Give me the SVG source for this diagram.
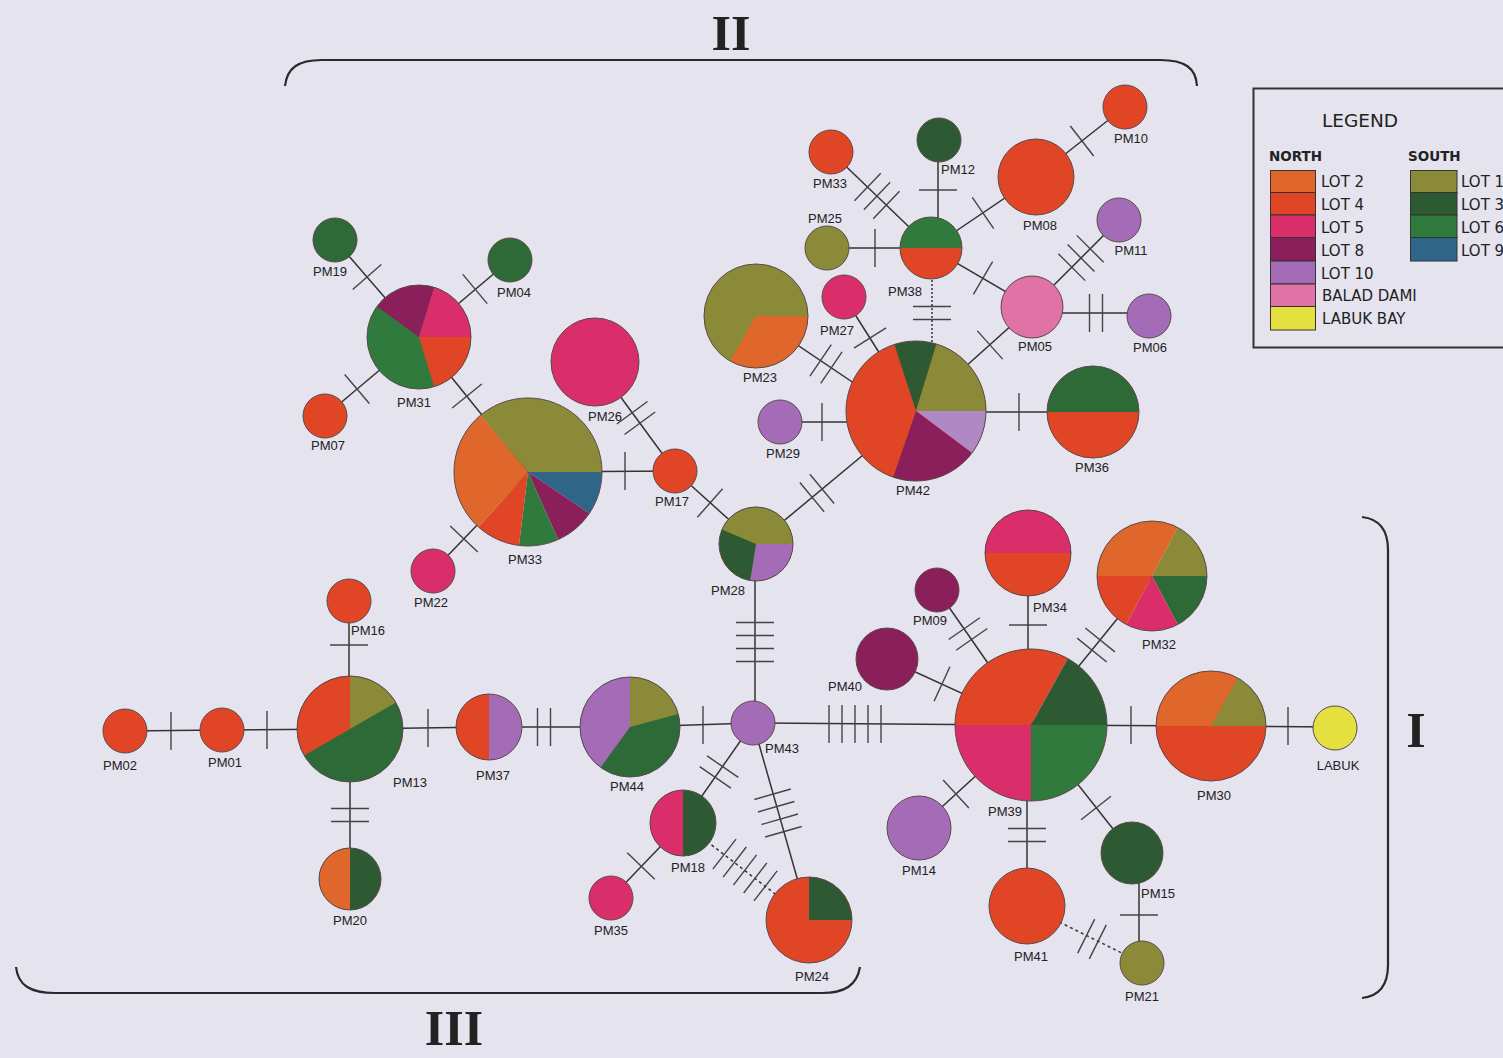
<svg xmlns="http://www.w3.org/2000/svg" xmlns:xlink="http://www.w3.org/1999/xlink" width="1503" height="1058" viewBox="0 0 1503 1058">
<style>
.c line{stroke:#333;stroke-width:1.5;fill:none}
.c .dash{stroke-dasharray:3 3}
.tk line{stroke:#444;stroke-width:1.4}
.ol{fill:none;stroke:#5a4a4a;stroke-width:1}
circle.s{stroke:#5a4a4a;stroke-width:1}
.lb{font-family:"Liberation Sans",Arial,sans-serif;font-size:13px;fill:#222;text-anchor:middle}
.lg{font-family:"DejaVu Sans","Liberation Sans",sans-serif;fill:#222}
.br{fill:none;stroke:#2a2a2a;stroke-width:2.2}
.rn{font-family:"Liberation Serif","Times New Roman",serif;font-weight:bold;font-size:50px;fill:#222;text-anchor:middle}
.l2{fill:#e0672b}.l4{fill:#e04526}.l5{fill:#da2e6a}.l8{fill:#8b1f5b}.l10{fill:#a46bb6}
.bd{fill:#e072a6}.lb9{fill:#e4e040}.l1{fill:#8a8a38}.l3{fill:#2d5a33}.l6{fill:#2f7a3c}.l9{fill:#2f6688}
.g2{fill:#2e6a37}
.sw{stroke:#333;stroke-width:1}
</style>
<defs>
<g id="t1" class="tk"><line x1="0" y1="-19" x2="0" y2="19"/></g>
<g id="t2" class="tk"><line x1="-6.5" y1="-19" x2="-6.5" y2="19"/><line x1="6.5" y1="-19" x2="6.5" y2="19"/></g>
<g id="t3" class="tk"><line x1="-13" y1="-19" x2="-13" y2="19"/><line x1="0" y1="-19" x2="0" y2="19"/><line x1="13" y1="-19" x2="13" y2="19"/></g>
<g id="t4" class="tk"><line x1="-19.5" y1="-19" x2="-19.5" y2="19"/><line x1="-6.5" y1="-19" x2="-6.5" y2="19"/><line x1="6.5" y1="-19" x2="6.5" y2="19"/><line x1="19.5" y1="-19" x2="19.5" y2="19"/></g>
<g id="t5" class="tk"><line x1="-26" y1="-19" x2="-26" y2="19"/><line x1="-13" y1="-19" x2="-13" y2="19"/><line x1="0" y1="-19" x2="0" y2="19"/><line x1="13" y1="-19" x2="13" y2="19"/><line x1="26" y1="-19" x2="26" y2="19"/></g>
</defs>
<rect width="1503" height="1058" fill="#e5e3ee"/>

<g id="brackets">
<path class="br" d="M285,86 C287,68 298,60 322,60 L1160,60 C1185,60 1196,68 1197,86"/>
<path class="br" d="M1362,517 C1380,519 1388,530 1388,550 L1388,965 C1388,985 1380,996 1362,998"/>
<path class="br" d="M16,967 C18,985 30,993 55,993 L822,993 C845,993 857,985 860,967"/>
<text class="rn" x="731" y="50">II</text>
<text class="rn" x="1416" y="747">I</text>
<text class="rn" x="454" y="1045" font-size="48">III</text>
</g>

<g id="connectors" class="c">
<line x1="125" y1="731" x2="222" y2="730"/>
<line x1="222" y1="730" x2="350" y2="729"/>
<line x1="349" y1="601" x2="349" y2="729"/>
<line x1="350" y1="729" x2="350" y2="879"/>
<line x1="350" y1="729" x2="489" y2="727"/>
<line x1="489" y1="727" x2="630" y2="727"/>
<line x1="630" y1="727" x2="753" y2="723"/>
<line x1="753" y1="723" x2="1031" y2="725"/>
<line x1="755" y1="723" x2="755" y2="544"/>
<line x1="753" y1="723" x2="683" y2="823"/>
<line x1="753" y1="723" x2="809" y2="920"/>
<line x1="683" y1="823" x2="611" y2="898"/>
<line class="dash" x1="683" y1="823" x2="809" y2="920"/>
<line x1="756" y1="544" x2="675" y2="471"/>
<line x1="756" y1="544" x2="916" y2="411"/>
<line x1="528" y1="472" x2="675" y2="471"/>
<line x1="595" y1="362" x2="675" y2="471"/>
<line x1="528" y1="472" x2="433" y2="571"/>
<line x1="419" y1="337" x2="528" y2="472"/>
<line x1="419" y1="337" x2="335" y2="240"/>
<line x1="419" y1="337" x2="510" y2="260"/>
<line x1="419" y1="337" x2="325" y2="416"/>
<line x1="780" y1="422" x2="916" y2="422"/>
<line x1="916" y1="412" x2="1093" y2="412"/>
<line x1="844" y1="297" x2="916" y2="411"/>
<line x1="756" y1="317" x2="916" y2="425"/>
<line class="dash" x1="932" y1="248" x2="932" y2="411" style="stroke-dasharray:2 2"/>
<line x1="916" y1="411" x2="1032" y2="307"/>
<line x1="938" y1="140" x2="938" y2="248"/>
<line x1="831" y1="152" x2="931" y2="248"/>
<line x1="827" y1="248" x2="931" y2="248"/>
<line x1="931" y1="248" x2="1036" y2="177"/>
<line x1="1036" y1="177" x2="1125" y2="107"/>
<line x1="931" y1="248" x2="1032" y2="307"/>
<line x1="1032" y1="307" x2="1119" y2="220"/>
<line x1="1032" y1="313" x2="1149" y2="313"/>
<line x1="1028" y1="553" x2="1028" y2="725"/>
<line x1="937" y1="590" x2="1031" y2="725"/>
<line x1="887" y1="659" x2="1031" y2="725"/>
<line x1="1152" y1="576" x2="1031" y2="725"/>
<line x1="1031" y1="725" x2="1211" y2="726"/>
<line x1="1211" y1="726" x2="1335" y2="727"/>
<line x1="1031" y1="725" x2="919" y2="828"/>
<line x1="1027" y1="725" x2="1027" y2="906"/>
<line x1="1031" y1="725" x2="1132" y2="853"/>
<line x1="1139" y1="853" x2="1139" y2="963"/>
<line class="dash" x1="1027" y1="906" x2="1142" y2="963"/>
</g>

<g id="ticks">
<use href="#t1" transform="translate(171,731)"/>
<use href="#t1" transform="translate(267,730)"/>
<use href="#t1" transform="translate(349,645) rotate(90)"/>
<use href="#t2" transform="translate(350,815) rotate(90)"/>
<use href="#t1" transform="translate(428,728)"/>
<use href="#t2" transform="translate(544,727)"/>
<use href="#t1" transform="translate(703,725)"/>
<use href="#t5" transform="translate(855,724)"/>
<use href="#t4" transform="translate(755,642) rotate(90)"/>
<use href="#t2" transform="translate(719,772) rotate(124.6)"/>
<use href="#t4" transform="translate(778,813) rotate(73.9)"/>
<use href="#t1" transform="translate(641,866) rotate(133.8)"/>
<use href="#t5" transform="translate(745,870) rotate(37.6)"/>
<use href="#t1" transform="translate(710,503) rotate(41.6)"/>
<use href="#t2" transform="translate(817,493) rotate(-39.7)"/>
<use href="#t1" transform="translate(625,471)"/>
<use href="#t2" transform="translate(636,418) rotate(53.7)"/>
<use href="#t1" transform="translate(464,539) rotate(133.5)"/>
<use href="#t1" transform="translate(467,396) rotate(51.1)"/>
<use href="#t1" transform="translate(367,277) rotate(48.8)"/>
<use href="#t1" transform="translate(475,289) rotate(-39.9)"/>
<use href="#t1" transform="translate(357,389) rotate(139.6)"/>
<use href="#t1" transform="translate(822,422)"/>
<use href="#t1" transform="translate(1019,412)"/>
<use href="#t1" transform="translate(870,338) rotate(57.7)"/>
<use href="#t2" transform="translate(826,364) rotate(34.2)"/>
<use href="#t2" transform="translate(932,313) rotate(90)"/>
<use href="#t1" transform="translate(990,345) rotate(-41.9)"/>
<use href="#t1" transform="translate(938,190) rotate(90)"/>
<use href="#t3" transform="translate(877,196) rotate(43.8)"/>
<use href="#t1" transform="translate(875,248)"/>
<use href="#t1" transform="translate(983,213) rotate(-34.3)"/>
<use href="#t1" transform="translate(1082,141) rotate(-37.9)"/>
<use href="#t1" transform="translate(983,278) rotate(30.3)"/>
<use href="#t3" transform="translate(1081,258) rotate(-45)"/>
<use href="#t2" transform="translate(1096,313)"/>
<use href="#t1" transform="translate(1028,625) rotate(90)"/>
<use href="#t2" transform="translate(968,634) rotate(55.1)"/>
<use href="#t1" transform="translate(942,684) rotate(24.6)"/>
<use href="#t2" transform="translate(1096,645) rotate(-51.1)"/>
<use href="#t1" transform="translate(1131,725)"/>
<use href="#t1" transform="translate(1288,726)"/>
<use href="#t1" transform="translate(956,794) rotate(137.4)"/>
<use href="#t2" transform="translate(1027,835) rotate(90)"/>
<use href="#t1" transform="translate(1096,808) rotate(52)"/>
<use href="#t1" transform="translate(1139,915) rotate(90)"/>
<use href="#t2" transform="translate(1092,939) rotate(26.6)"/>
</g>

<g id="nodes">
<g id="PM02"><circle class="s l4" cx="125" cy="731" r="22"/><text class="lb" x="120" y="770">PM02</text></g>
<g id="PM01"><circle class="s l4" cx="222" cy="730" r="22"/><text class="lb" x="225" y="767">PM01</text></g>
<g id="PM13"><circle class="g2" cx="350" cy="729" r="53"/>
<path class="l1" d="M350,729 L350,676 A53,53 0 0 1 395.9,702.5 Z"/>
<path class="l4" d="M350,729 L304.1,755.5 A53,53 0 0 1 350,676 Z"/>
<circle class="ol" cx="350" cy="729" r="53"/><text class="lb" x="410" y="787">PM13</text></g>
<g id="PM16"><circle class="s l4" cx="349" cy="601" r="22"/><text class="lb" x="368" y="635">PM16</text></g>
<g id="PM20"><circle class="l3" cx="350" cy="879" r="31"/><path class="l2" d="M350,848 A31,31 0 0 0 350,910 Z"/><circle class="ol" cx="350" cy="879" r="31"/><text class="lb" x="350" y="925">PM20</text></g>
<g id="PM37"><circle class="l10" cx="489" cy="727" r="33"/><path class="l4" d="M489,694 A33,33 0 0 0 489,760 Z"/><circle class="ol" cx="489" cy="727" r="33"/><text class="lb" x="493" y="780">PM37</text></g>
<g id="PM44"><circle class="g2" cx="630" cy="727" r="50"/>
<path class="l1" d="M630,727 L630,677 A50,50 0 0 1 678.3,714.1 Z"/>
<path class="l10" d="M630,727 L600.6,767.5 A50,50 0 0 1 630,677 Z"/>
<circle class="ol" cx="630" cy="727" r="50"/><text class="lb" x="627" y="791">PM44</text></g>
<g id="PM43"><circle class="s l10" cx="753" cy="723" r="22"/><text class="lb" x="782" y="753">PM43</text></g>
<g id="PM28"><circle class="l3" cx="756" cy="544" r="37"/>
<path class="l1" d="M756,544 L721.9,529.5 A37,37 0 0 1 793,544 Z"/>
<path class="l10" d="M756,544 L793,544 A37,37 0 0 1 750.2,580.5 Z"/>
<circle class="ol" cx="756" cy="544" r="37"/><text class="lb" x="728" y="595">PM28</text></g>
<g id="PM18"><circle class="l3" cx="683" cy="823" r="33"/><path class="l5" d="M683,790 A33,33 0 0 0 683,856 Z"/><circle class="ol" cx="683" cy="823" r="33"/><text class="lb" x="688" y="872">PM18</text></g>
<g id="PM35"><circle class="s l5" cx="611" cy="898" r="22"/><text class="lb" x="611" y="935">PM35</text></g>
<g id="PM24"><circle class="l4" cx="809" cy="920" r="43"/><path class="l3" d="M809,920 L809,877 A43,43 0 0 1 852,920 Z"/><circle class="ol" cx="809" cy="920" r="43"/><text class="lb" x="812" y="981">PM24</text></g>
<g id="PM39">
<path class="l4" d="M1031,725 L955,725 A76,76 0 0 1 1067.8,658.5 Z"/>
<path class="l3" d="M1031,725 L1067.8,658.5 A76,76 0 0 1 1107,725 Z"/>
<path class="l6" d="M1031,725 L1107,725 A76,76 0 0 1 1031,801 Z"/>
<path class="l5" d="M1031,725 L1031,801 A76,76 0 0 1 955,725 Z"/>
<circle class="ol" cx="1031" cy="725" r="76"/><text class="lb" x="1005" y="816">PM39</text></g>
<g id="PM34"><circle class="l4" cx="1028" cy="553" r="43"/><path class="l5" d="M985,553 A43,43 0 0 1 1071,553 Z"/><circle class="ol" cx="1028" cy="553" r="43"/><text class="lb" x="1050" y="612">PM34</text></g>
<g id="PM09"><circle class="s l8" cx="937" cy="590" r="22"/><text class="lb" x="930" y="625">PM09</text></g>
<g id="PM40"><circle class="s l8" cx="887" cy="659" r="31"/><text class="lb" x="845" y="691">PM40</text></g>
<g id="PM32">
<path class="l2" d="M1152,576 L1097,576 A55,55 0 0 1 1177.8,527.4 Z"/>
<path class="l1" d="M1152,576 L1177.8,527.4 A55,55 0 0 1 1207,576 Z"/>
<path class="g2" d="M1152,576 L1207,576 A55,55 0 0 1 1177.8,624.6 Z"/>
<path class="l5" d="M1152,576 L1177.8,624.6 A55,55 0 0 1 1126.2,624.6 Z"/>
<path class="l4" d="M1152,576 L1126.2,624.6 A55,55 0 0 1 1097,576 Z"/>
<circle class="ol" cx="1152" cy="576" r="55"/><text class="lb" x="1159" y="649">PM32</text></g>
<g id="PM30"><circle class="l4" cx="1211" cy="726" r="55"/>
<path class="l2" d="M1211,726 L1156,726 A55,55 0 0 1 1237.7,677.9 Z"/>
<path class="l1" d="M1211,726 L1237.7,677.9 A55,55 0 0 1 1266,726 Z"/>
<circle class="ol" cx="1211" cy="726" r="55"/><text class="lb" x="1214" y="800">PM30</text></g>
<g id="LABUK"><circle class="s lb9" cx="1335" cy="728" r="22"/><text class="lb" x="1338" y="770">LABUK</text></g>
<g id="PM14"><circle class="s l10" cx="919" cy="828" r="32"/><text class="lb" x="919" y="875">PM14</text></g>
<g id="PM41"><circle class="s l4" cx="1027" cy="906" r="38"/><text class="lb" x="1031" y="961">PM41</text></g>
<g id="PM15"><circle class="s l3" cx="1132" cy="853" r="31"/><text class="lb" x="1158" y="898">PM15</text></g>
<g id="PM21"><circle class="s l1" cx="1142" cy="963" r="22"/><text class="lb" x="1142" y="1001">PM21</text></g>
<g id="PM33">
<path class="l1" d="M528,472 L480.4,415.3 A74,74 0 0 1 602,472 Z"/>
<path class="l9" d="M528,472 L602,472 A74,74 0 0 1 589.3,513.4 Z"/>
<path class="l8" d="M528,472 L589.3,513.4 A74,74 0 0 1 558.1,539.6 Z"/>
<path class="l6" d="M528,472 L558.1,539.6 A74,74 0 0 1 519,545.4 Z"/>
<path class="l4" d="M528,472 L519,545.4 A74,74 0 0 1 478.5,527 Z"/>
<path class="l2" d="M528,472 L478.5,527 A74,74 0 0 1 480.4,415.3 Z"/>
<circle class="ol" cx="528" cy="472" r="74"/><text class="lb" x="525" y="564">PM33</text></g>
<g id="PM26"><circle class="s l5" cx="595" cy="362" r="44"/><text class="lb" x="605" y="421">PM26</text></g>
<g id="PM17"><circle class="s l4" cx="675" cy="471" r="22"/><text class="lb" x="672" y="506">PM17</text></g>
<g id="PM22"><circle class="s l5" cx="433" cy="571" r="22"/><text class="lb" x="431" y="607">PM22</text></g>
<g id="PM31"><circle class="l6" cx="419" cy="337" r="52"/>
<path class="l8" d="M419,337 L376.9,306.4 A52,52 0 0 1 434.2,287.3 Z"/>
<path class="l5" d="M419,337 L434.2,287.3 A52,52 0 0 1 471,337 Z"/>
<path class="l4" d="M419,337 L471,337 A52,52 0 0 1 434.2,386.7 Z"/>
<circle class="ol" cx="419" cy="337" r="52"/><text class="lb" x="414" y="407">PM31</text></g>
<g id="PM19"><circle class="s g2" cx="335" cy="240" r="22"/><text class="lb" x="330" y="276">PM19</text></g>
<g id="PM04"><circle class="s g2" cx="510" cy="260" r="22"/><text class="lb" x="514" y="297">PM04</text></g>
<g id="PM07"><circle class="s l4" cx="325" cy="416" r="22"/><text class="lb" x="328" y="450">PM07</text></g>
<g id="PM23"><circle class="l1" cx="756" cy="316" r="52"/><path class="l2" d="M756,316 L808,316 A52,52 0 0 1 730,361 Z"/><circle class="ol" cx="756" cy="316" r="52"/><text class="lb" x="760" y="382">PM23</text></g>
<g id="PM42"><circle class="l4" cx="916" cy="411" r="70"/>
<path class="l3" d="M916,411 L894.4,344.4 A70,70 0 0 1 936.5,344.1 Z"/>
<path class="l1" d="M916,411 L936.5,344.1 A70,70 0 0 1 986,411 Z"/>
<path fill="#b088c4" d="M916,411 L986,411 A70,70 0 0 1 971.9,453.1 Z"/>
<path class="l8" d="M916,411 L971.9,453.1 A70,70 0 0 1 893.2,477.2 Z"/>
<circle class="ol" cx="916" cy="411" r="70"/><text class="lb" x="913" y="495">PM42</text></g>
<g id="PM29"><circle class="s l10" cx="780" cy="422" r="22"/><text class="lb" x="783" y="458">PM29</text></g>
<g id="PM36"><circle class="l4" cx="1093" cy="412" r="46"/><path class="g2" d="M1047,412 A46,46 0 0 1 1139,412 Z"/><circle class="ol" cx="1093" cy="412" r="46"/><text class="lb" x="1092" y="472">PM36</text></g>
<g id="PM27"><circle class="s l5" cx="844" cy="297" r="22"/><text class="lb" x="837" y="335">PM27</text></g>
<g id="PM38"><circle class="l4" cx="931" cy="248" r="31"/><path class="l6" d="M900,248 A31,31 0 0 1 962,248 Z"/><circle class="ol" cx="931" cy="248" r="31"/><text class="lb" x="905" y="296">PM38</text></g>
<g id="PM12"><circle class="s l3" cx="939" cy="140" r="22"/><text class="lb" x="958" y="174">PM12</text></g>
<g id="PM33b"><circle class="s l4" cx="831" cy="152" r="22"/><text class="lb" x="830" y="188">PM33</text></g>
<g id="PM25"><circle class="s l1" cx="827" cy="248" r="22"/><text class="lb" x="825" y="223">PM25</text></g>
<g id="PM08"><circle class="s l4" cx="1036" cy="177" r="38"/><text class="lb" x="1040" y="230">PM08</text></g>
<g id="PM10"><circle class="s l4" cx="1125" cy="107" r="22"/><text class="lb" x="1131" y="143">PM10</text></g>
<g id="PM05"><circle class="s bd" cx="1032" cy="307" r="31"/><text class="lb" x="1035" y="351">PM05</text></g>
<g id="PM11"><circle class="s l10" cx="1119" cy="220" r="22"/><text class="lb" x="1131" y="255">PM11</text></g>
<g id="PM06"><circle class="s l10" cx="1149" cy="316" r="22"/><text class="lb" x="1150" y="352">PM06</text></g>
</g>

<g id="legend">
<rect x="1253.5" y="88.5" width="260" height="259" fill="none" stroke="#333" stroke-width="2"/>
<text class="lg" x="1322" y="127" font-size="18.5">LEGEND</text>
<text class="lg" x="1269" y="161" font-size="13.5" font-weight="bold">NORTH</text>
<text class="lg" x="1408" y="161" font-size="13.5" font-weight="bold">SOUTH</text>
<rect class="sw l2" x="1270.5" y="170.5" width="45" height="22"/>
<rect class="sw l4" x="1270.5" y="192.5" width="45" height="22.5"/>
<rect class="sw l5" x="1270.5" y="215" width="45" height="22.5"/>
<rect class="sw l8" x="1270.5" y="237.5" width="45" height="23.5"/>
<rect class="sw l10" x="1270.5" y="261" width="45" height="23"/>
<rect class="sw bd" x="1270.5" y="284" width="45" height="22.5"/>
<rect class="sw lb9" x="1270.5" y="306.5" width="45" height="23.5"/>
<rect class="sw l1" x="1410.5" y="170.5" width="46.5" height="22"/>
<rect class="sw l3" x="1410.5" y="192.5" width="46.5" height="22.5"/>
<rect class="sw l6" x="1410.5" y="215" width="46.5" height="22.5"/>
<rect class="sw l9" x="1410.5" y="237.5" width="46.5" height="23.5"/>
<g class="lg" font-size="15">
<text x="1321" y="187">LOT 2</text>
<text x="1321" y="210">LOT 4</text>
<text x="1321" y="233">LOT 5</text>
<text x="1321" y="256">LOT 8</text>
<text x="1321" y="279">LOT 10</text>
<text x="1322" y="301">BALAD DAMI</text>
<text x="1322" y="324">LABUK BAY</text>
<text x="1461" y="187">LOT 1</text>
<text x="1461" y="210">LOT 3</text>
<text x="1461" y="233">LOT 6</text>
<text x="1461" y="256">LOT 9</text>
</g>
</g>
</svg>
